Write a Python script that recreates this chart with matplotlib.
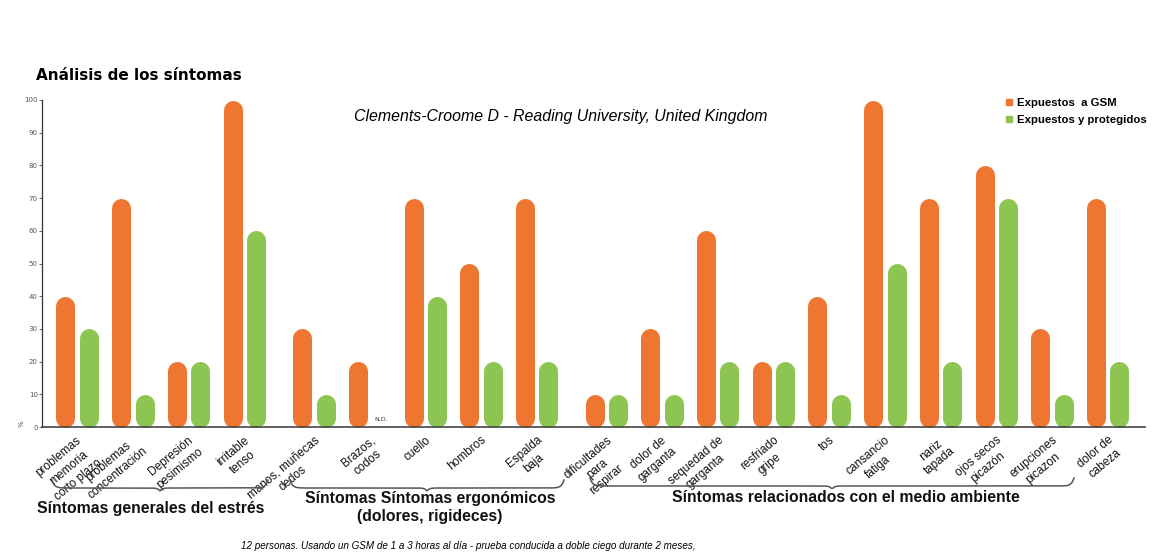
import matplotlib
matplotlib.use("Agg")
import matplotlib.pyplot as plt
import numpy as np
from matplotlib.lines import Line2D

# datos
labels = ["problemas\nmemoria\ncorto plazo", "problemas\nconcentración", "Depresión\npesimismo",
          "irritable\ntenso", "manos, muñecas\ndedos", "Brazos,\ncodos", "cuello", "hombros",
          "Espalda\nbaja", "dificultades\npara\nrespirar", "dolor de\ngarganta",
          "sequedad de\ngarganta", "resfriado\ngripe", "tos", "cansancio\nfatiga",
          "nariz\ntapada", "ojos secos\npicazón", "erupciones\npicazon", "dolor de\ncabeza"]
grupo = [0, 0, 0, 0, 1, 1, 1, 1, 1, 2, 2, 2, 2, 2, 2, 2, 2, 2, 2]
expuestos = [40, 70, 20, 100, 30, 20, 70, 50, 70, 10, 30, 60, 20, 40, 100, 70, 80, 30, 70]
protegidos = [30, 10, 20, 60, 10, None, 40, 20, 20, 10, 10, 20, 20, 10, 50, 20, 70, 10, 20]
grupos = ["Síntomas generales del estrés",
          "Síntomas Síntomas ergonómicos\n(dolores, rigideces)",
          "Síntomas relacionados con el medio ambiente"]

naranja = "#EF7631"
verde = "#8CC551"

W, H = 1154, 553
fig = plt.figure(figsize=(W / 100, H / 100), dpi=100)
ax = fig.add_axes([42 / W, (H - 427) / H, 1103 / W, 327 / H])

x = np.arange(len(labels)) + 0.25 * np.array(grupo)
off = 0.21
lw = 19 * 0.72          # ~19 px en puntos
cap = 9.5 / 3.27        # medio ancho de barra en unidades de datos

for xi, v in zip(x, expuestos):
    ax.vlines(xi - off, cap, v - cap, colors=naranja, linewidth=lw, clip_on=False)
for xi, v in zip(x, protegidos):
    if v is None:
        ax.text(xi + off, 1.5, "N.D.", fontsize=4.5, ha="center", va="bottom", color="#333333")
        continue
    ax.vlines(xi + off, cap, v - cap, colors=verde, linewidth=lw, clip_on=False)
for c in ax.collections:
    c.set_capstyle("round")

ax.set_xlim(-0.63, x[-1] + 0.67)
ax.set_ylim(0, 100)
ax.set_yticks(range(0, 101, 10))
ax.tick_params(axis="y", labelsize=5, colors="#555555", length=2, width=0.6, pad=1)
ax.set_xticks(x)
ax.set_xticklabels(labels, rotation=40, ha="right", va="top", rotation_mode="anchor",
                   multialignment="center", fontsize=8.5, linespacing=1.3,
                   family="Liberation Sans", color="#111111")
ax.tick_params(axis="x", length=0, pad=5)
for s in ["top", "right"]:
    ax.spines[s].set_visible(False)
ax.spines["left"].set_color("#333333")
ax.spines["bottom"].set_color("#444444")
ax.spines["left"].set_linewidth(0.9)
ax.spines["bottom"].set_linewidth(1.2)
ax.text(-0.016, 0.01, "%", transform=ax.transAxes, fontsize=5, rotation=90,
        ha="right", va="center", color="#555555")

# titulos
fig.text(36 / W, 1 - 75 / H, "Análisis de los síntomas", fontsize=11, fontweight="bold",
         family="DejaVu Sans", va="center")
fig.text(561 / W, 1 - 116 / H, "Clements-Croome D - Reading University, United Kingdom",
         fontsize=11.4, style="italic", family="Liberation Sans", ha="center", va="center")
fig.text(468 / W, 1 - 546 / H,
         "12 personas. Usando un GSM de 1 a 3 horas al día - prueba conducida a doble ciego durante 2 meses,",
         fontsize=7.1, style="italic", family="Liberation Sans", ha="center", va="center")

# leyenda
h1 = Line2D([], [], marker="s", color=naranja, linestyle="none", markersize=4.5)
h2 = Line2D([], [], marker="s", color=verde, linestyle="none", markersize=4.5)
leg = fig.legend([h1, h2], ["Expuestos  a GSM", "Expuestos y protegidos"],
                 loc="upper left", bbox_to_anchor=(1000 / W, 1 - 92 / H), frameon=False,
                 handlelength=0.6, handletextpad=0.4, labelspacing=0.6, borderpad=0,
                 prop={"family": "Liberation Sans", "weight": "bold", "size": 8.2})


# llaves: extremos curvados hacia arriba, punta central hacia abajo
def llave(x0, x1, y, h=8):
    xs = np.linspace(x0, x1, 400)
    m = (x0 + x1) / 2
    e = np.minimum(xs - x0, x1 - xs)
    ys = y - h * np.exp(-e / 2.5) + 0.4 * h * np.exp(-np.abs(xs - m) / 2.0)
    fig.add_artist(Line2D(xs / W, 1 - ys / H, color="#555555", linewidth=1.1,
                          transform=fig.transFigure))


llave(52, 268, 488)
llave(290, 564, 488)
llave(590, 1074, 486)

fig.text(151 / W, 1 - 508 / H, grupos[0], fontsize=11.3, ha="center", va="center",
         family="Liberation Sans", fontweight="bold", color="#111111")
fig.text(430 / W, 1 - 508 / H, grupos[1], fontsize=11.3, ha="center", va="center",
         family="Liberation Sans", fontweight="bold", color="#111111", linespacing=1.25)
fig.text(846 / W, 1 - 497 / H, grupos[2], fontsize=11.3, ha="center", va="center",
         family="Liberation Sans", fontweight="bold", color="#111111")

fig.savefig("out.png", dpi=100)
